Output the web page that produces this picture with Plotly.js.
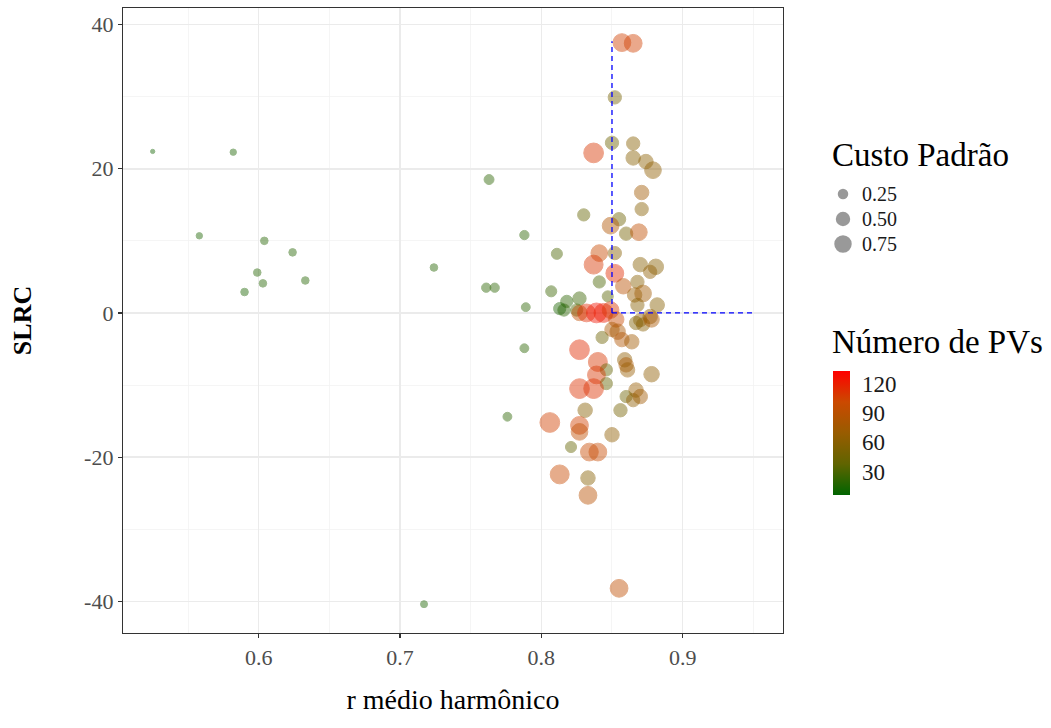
<!DOCTYPE html>
<html><head><meta charset="utf-8">
<script src="https://cdn.plot.ly/plotly-3.0.1.min.js"></script>
<style>body{margin:0;background:#fff}#chart{width:1051px;height:728px}</style>
</head><body><div id="chart"></div>
<script>
const rMedio = [0.525,0.582,0.558,0.604,0.624,0.599,0.603,0.590,0.633,0.724,
  0.763,0.761,0.767,0.717,0.776,0.788,0.788,0.789,0.857,0.865,
  0.852,0.850,0.865,0.837,0.865,0.874,0.879,0.871,0.871,0.830,
  0.855,0.849,0.860,0.869,0.811,0.841,0.852,0.837,0.852,0.841,
  0.858,0.847,0.870,0.881,0.877,0.868,0.872,0.866,0.868,0.882,
  0.877,0.870,0.807,0.818,0.827,0.816,0.813,0.825,0.827,0.832,
  0.839,0.844,0.849,0.853,0.850,0.854,0.857,0.864,0.867,0.872,
  0.878,0.843,0.827,0.840,0.846,0.839,0.846,0.827,0.837,0.859,
  0.860,0.861,0.878,0.867,0.870,0.860,0.865,0.856,0.831,0.806,
  0.827,0.827,0.821,0.850,0.834,0.840,0.813,0.833,0.833,0.855];
const slrc = [22.4,22.3,10.7,10.0,8.4,5.6,4.1,2.9,4.5,6.3,
  18.5,3.5,3.5,-40.4,-14.4,10.8,-4.9,0.8,37.5,37.4,
  29.9,23.6,23.5,22.2,21.5,21.0,19.8,16.7,14.4,13.6,
  13.0,12.1,11.0,11.2,8.2,8.3,8.3,6.7,5.5,4.3,
  3.7,2.3,6.7,6.4,5.7,4.3,2.7,2.5,1.1,1.1,
  -0.5,-1.0,3.0,1.6,2.0,0.4,0.6,0.4,0.0,0.0,
  0.0,0.0,0.4,-0.9,-2.3,-2.6,-3.7,-4.0,-1.4,-1.6,
  -0.9,-3.4,-5.1,-6.8,-7.9,-8.6,-9.8,-10.5,-10.5,-6.5,
  -7.2,-7.9,-8.5,-10.7,-11.6,-11.6,-12.1,-13.5,-13.5,-15.2,
  -15.6,-16.5,-18.6,-16.9,-19.3,-19.3,-22.4,-22.9,-25.3,-38.2];
const custoPadrao = [0.03,0.08,0.08,0.12,0.12,0.12,0.12,0.12,0.12,0.12,
  0.22,0.19,0.19,0.10,0.17,0.19,0.17,0.17,0.78,0.78,
  0.42,0.42,0.42,0.97,0.50,0.50,0.68,0.50,0.42,0.35,
  0.42,0.68,0.42,0.68,0.28,0.68,0.42,0.89,0.78,0.35,
  0.58,0.28,0.50,0.58,0.42,0.42,0.68,0.50,0.42,0.50,
  0.50,0.42,0.28,0.35,0.42,0.35,0.35,0.35,0.58,0.78,
  0.98,0.89,0.68,0.58,0.50,0.58,0.50,0.50,0.42,0.42,
  0.58,0.35,0.97,0.89,0.35,0.78,0.35,0.97,0.97,0.50,
  0.50,0.50,0.58,0.50,0.50,0.35,0.42,0.42,0.50,0.97,
  0.78,0.68,0.28,0.50,0.78,0.78,0.89,0.50,0.78,0.78];
const numeroPVs = [12,15,15,18,18,18,18,15,18,18,
  20,20,20,15,20,20,20,20,105,105,
  50,45,60,110,60,62,65,75,60,40,
  45,85,50,95,30,100,60,110,115,30,
  90,35,60,60,65,60,75,70,60,60,
  65,65,25,20,25,20,15,30,95,115,
  125,122,110,100,80,80,85,75,55,60,
  80,45,115,110,40,110,40,112,112,65,
  80,70,65,70,75,45,65,50,60,105,
  105,95,40,65,100,100,100,60,90,95];
const refVertX = [0.85, 0.85];
const refVertY = [0, 37.7];
const refHorX = [0.85, 0.95];
const refHorY = [0, 0];
const sizeBreaks = [0.25, 0.50, 0.75];
const sizeBreakLabels = ['0.25', '0.50', '0.75'];
const pvTickVals = [30, 60, 90, 120];
const xTickVals = [0.6, 0.7, 0.8, 0.9];
const yTickVals = [-40, -20, 0, 20, 40];
const yTickText = ['-40', '-20', '0', '20', '40'];

const FONT = 'Liberation Serif, Times New Roman, serif';
const scale = [[0,'#006400'],[0.25,'#606400'],[0.5,'#985C00'],[0.75,'#CB4900'],[1,'#FF0000']];
function diam(c){ return 1 + 19*Math.sqrt(c); }

// plot area geometry (px) used for legend placement in paper units
const PL = 123, PW = 660, PT = 8, PH = 625;
const px2x = p => (p - PL) / PW;
const px2y = p => (PT + PH - p) / PH;

const traces = [];
traces.push({
  type:'scatter', mode:'markers', x:rMedio, y:slrc, showlegend:false, hoverinfo:'skip',
  marker:{
    size: custoPadrao.map(diam), sizemode:'diameter',
    color: numeroPVs, colorscale: scale, cmin: 6, cmax: 133, opacity: 0.45,
    line:{width:1, color:numeroPVs, colorscale:scale, cmin:6, cmax:133},
    colorbar:{
      x:px2x(833), xanchor:'left', xpad:0, y:px2y(433), yanchor:'middle', ypad:0,
      len:124, lenmode:'pixels', thickness:17, outlinewidth:0,
      tickvals: pvTickVals, ticks:'outside', ticklen:8, tickcolor:'rgba(0,0,0,0)',
      tickfont:{family:FONT, size:23, color:'#1a1a1a'}
    }
  }
});
const dashLine = {color:'#0000FF', width:1.3, dash:'5px,4px'};
traces.push({type:'scatter', mode:'lines', x:refVertX, y:refVertY, line:dashLine, showlegend:false, hoverinfo:'skip'});
traces.push({type:'scatter', mode:'lines', x:refHorX, y:refHorY, line:dashLine, showlegend:false, hoverinfo:'skip'});

const legendRows = [194, 219, 244];
const shapes = sizeBreaks.map((b,i)=>{
  const r = diam(b)/2;
  return {type:'circle', xref:'paper', yref:'paper', xsizemode:'pixel', ysizemode:'pixel',
    xanchor:px2x(843), yanchor:px2y(legendRows[i]), x0:-r, x1:r, y0:-r, y1:r,
    fillcolor:'rgba(0,0,0,0.4)', line:{width:0}, layer:'above'};
});
const annotations = sizeBreaks.map((b,i)=>({
  xref:'paper', yref:'paper', x:px2x(861), y:px2y(legendRows[i]), xanchor:'left', yanchor:'middle',
  text:sizeBreakLabels[i], showarrow:false, borderpad:0, font:{family:FONT, size:20, color:'#1a1a1a'}
}));
annotations.push({xref:'paper', yref:'paper', x:px2x(830), y:px2y(155), xanchor:'left', yanchor:'middle',
  text:'Custo Padrão', showarrow:false, font:{family:FONT, size:33, color:'#000'}});
annotations.push({xref:'paper', yref:'paper', x:px2x(830), y:px2y(342), xanchor:'left', yanchor:'middle',
  text:'Número de PVs', showarrow:false, font:{family:FONT, size:33, color:'#000'}});

const axCommon = {
  showline:true, mirror:true, linecolor:'#333333', linewidth:1.2,
  ticks:'outside', ticklen:4, tickwidth:1.2, tickcolor:'#333333',
  showgrid:true, gridcolor:'#EBEBEB', gridwidth:1.5, zeroline:false,
  tickfont:{family:FONT, size:22, color:'#4D4D4D'}
};
const layout = {
  width:1051, height:728,
  margin:{l:PL, r:1051-PL-PW, t:PT, b:728-PT-PH},
  paper_bgcolor:'#fff', plot_bgcolor:'#fff',
  font:{family:FONT, color:'#000'},
  showlegend:false,
  xaxis: Object.assign({}, axCommon, {
    range:[0.504, 0.971], tickvals:xTickVals, ticktext:xTickVals.map(v=>v.toFixed(1)),
    minor:{tickvals:[0.55,0.65,0.75,0.85,0.95], showgrid:true, gridcolor:'#F2F2F2', gridwidth:0.8, ticks:''},
    title:{text:'r médio harmônico', font:{family:FONT, size:28, color:'#000'}, standoff:20}
  }),
  yaxis: Object.assign({}, axCommon, {
    range:[-44.4, 42.3], tickvals:yTickVals, ticktext:yTickText,
    minor:{tickvals:[-30,-10,10,30], showgrid:true, gridcolor:'#F2F2F2', gridwidth:0.8, ticks:''},
    title:{text:'<b>SLRC</b>', font:{family:FONT, size:26, color:'#000'}, standoff:45}
  }),
  shapes: shapes,
  annotations: annotations
};
Plotly.newPlot('chart', traces, layout, {displayModeBar:false, staticPlot:true});
</script></body></html>
